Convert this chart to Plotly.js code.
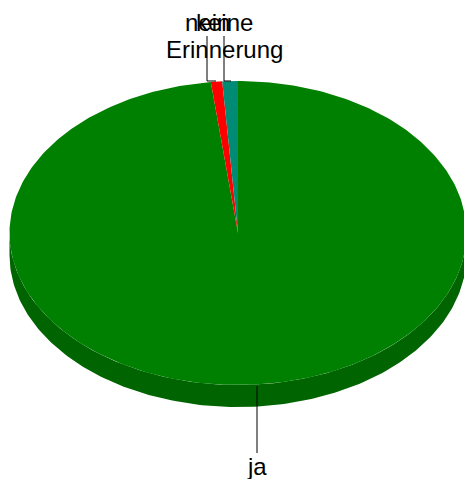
<!DOCTYPE html>
<html><head><meta charset="utf-8">
<script src="https://cdn.plot.ly/plotly-3.0.1.min.js"></script>
<style>html,body{margin:0;padding:0;background:#fff;overflow:hidden}#c{width:464px;height:479px}</style>
</head><body><div id="c"></div>
<script>
var categories = ['ja', 'nein', 'keine Erinnerung'];
var shares = [98.1, 0.8, 1.1];
var sliceColors = ['#008000', '#ff0000', '#008b74'];
var wallColor = '#006400';
var leaderX = [[257, 257], [207, 207, 216], [224, 224, 231]];
var leaderY = [[386, 453], [36, 81, 81], [36, 81, 81]];
var labelText = ['ja', 'nein', 'keine', 'Erinnerung'];
var labelX = [257, 207, 224, 224];
var labelY = [452, 8, 8, 35];

var cx = 238, cy = 233, rx = 228.5, ry = 152, depth = 22;
function pt(deg, dy) {
  var a = deg * Math.PI / 180;
  return [cx + rx * Math.sin(a), cy + (dy || 0) - ry * Math.cos(a)];
}
var traces = [];
// side wall (front half of the disc)
var wx = [], wy = [], d;
for (d = 90; d <= 270; d += 1) { var p = pt(d, 0); wx.push(p[0]); wy.push(p[1]); }
for (d = 270; d >= 90; d -= 1) { var q = pt(d, depth); wx.push(q[0]); wy.push(q[1]); }
traces.push({type:'scatter', mode:'lines', x:wx, y:wy, fill:'toself', fillcolor:wallColor,
  line:{width:0, color:wallColor}, hoverinfo:'skip', showlegend:false});
// slices
var total = shares.reduce(function(s, v){return s + v;}, 0), start = 0;
shares.forEach(function(v, i) {
  var sweep = v / total * 360, xs = [cx], ys = [cy], n = Math.max(2, Math.ceil(sweep));
  for (var k = 0; k <= n; k++) { var r = pt(start + sweep * k / n); xs.push(r[0]); ys.push(r[1]); }
  xs.push(cx); ys.push(cy);
  traces.push({type:'scatter', mode:'lines', name:categories[i], x:xs, y:ys, fill:'toself',
    fillcolor:sliceColors[i], line:{width:0, color:sliceColors[i]}, hoverinfo:'name', showlegend:false});
  start += sweep;
});
// leader lines
leaderX.forEach(function(lx, i) {
  traces.push({type:'scatter', mode:'lines', x:lx, y:leaderY[i], line:{color:'#000', width:1},
    hoverinfo:'skip', showlegend:false});
});
var annotations = labelText.map(function(t, i) {
  return {text:t, x:labelX[i], y:labelY[i], xref:'x', yref:'y', xanchor:'center', yanchor:'top',
    showarrow:false, align:'center', font:{family:'Liberation Sans, Arial, sans-serif', size:24, color:'#000'},
    borderpad:0};
});
var axis = {visible:false, showgrid:false, zeroline:false, fixedrange:true};
Plotly.newPlot('c', traces, {
  width:464, height:479, margin:{l:0,r:0,t:0,b:0}, paper_bgcolor:'#fff', plot_bgcolor:'#fff',
  xaxis:Object.assign({range:[0,464]}, axis),
  yaxis:Object.assign({range:[479,0]}, axis),
  annotations:annotations, showlegend:false
}, {displayModeBar:false, staticPlot:true});
</script></body></html>
